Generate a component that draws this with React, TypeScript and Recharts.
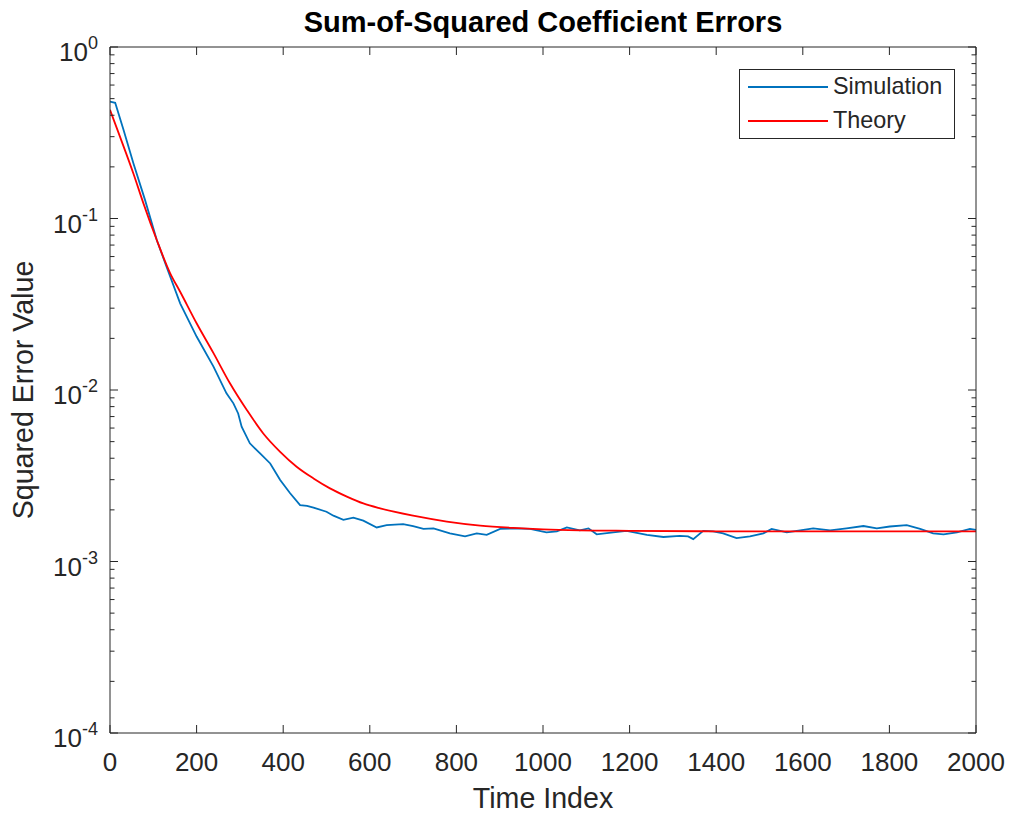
import { LineChart, Line, XAxis, YAxis, Legend } from 'recharts';

// values
const simIndex = [
  0, 12, 31, 54, 81, 108, 131, 162, 200, 239, 269, 285, 296, 304, 323, 346, 370, 393, 416, 439,
  455, 470, 500, 516, 539, 562, 585, 616, 639, 677, 700, 724, 747, 785, 820, 847, 870,
  901, 931, 970, 1008, 1032, 1055, 1085, 1105, 1124, 1162, 1193, 1240, 1278, 1316, 1335, 1347,
  1370, 1393, 1416, 1447, 1478, 1509, 1528, 1563, 1594, 1624, 1663, 1701, 1740, 1771, 1801, 1840,
  1871, 1901, 1925, 1956, 1986, 2000,
];
const simValue = [
  0.48, 0.473, 0.33, 0.21, 0.128, 0.0749, 0.052, 0.032, 0.0205, 0.0137, 0.00957, 0.00836, 0.0073,
  0.00611, 0.00489, 0.00428, 0.00373, 0.00299, 0.0025, 0.00213, 0.00211, 0.00206, 0.00195, 0.00185,
  0.00175, 0.0018, 0.00173, 0.00158, 0.00163, 0.00165, 0.00161, 0.00155, 0.00156,
  0.00146, 0.0014, 0.00146, 0.00143, 0.00155, 0.00156, 0.00155, 0.00148, 0.0015, 0.00158, 0.00152,
  0.00156, 0.00144, 0.00148, 0.00151, 0.00143, 0.00139, 0.00141, 0.0014, 0.00135, 0.00151, 0.0015,
  0.00146, 0.00137, 0.0014, 0.00146, 0.00155, 0.00148, 0.00152, 0.00156, 0.00152, 0.00156, 0.00161,
  0.00156, 0.0016, 0.00163, 0.00155, 0.00146, 0.00144, 0.00148, 0.00155, 0.00153,
];

const theoryIndex = [
  0, 23, 54, 77, 108, 139, 162, 200, 239, 277, 316, 354, 393, 431, 470, 508, 547, 585, 624, 700,
  778, 855, 931, 1000, 1085, 1200, 1400, 2000,
];
const theoryValue = [
  0.43, 0.3, 0.183, 0.123, 0.0749, 0.0479, 0.0374, 0.0245, 0.0164, 0.01094, 0.00764, 0.00558,
  0.00436, 0.00357, 0.00305, 0.00267, 0.00239, 0.00218, 0.00204, 0.00185, 0.00171, 0.00162,
  0.00157, 0.00154, 0.00152, 0.00151, 0.0015, 0.0015,
];

const xTicks = [0, 200, 400, 600, 800, 1000, 1200, 1400, 1600, 1800, 2000];
const yDecades = [1e-4, 1e-3, 1e-2, 1e-1, 1];

const simData = simIndex.map((x, i) => ({ x, v: simValue[i] }));
const theoryData = theoryIndex.map((x, i) => ({ x, v: theoryValue[i] }));

// major + minor log ticks (2..9 in each decade)
const yTicks: number[] = [];
yDecades.forEach((d, i) => {
  yTicks.push(d);
  if (i < yDecades.length - 1) for (let k = 2; k <= 9; k++) yTicks.push(+(d * k).toPrecision(3));
});

const AXIS = '#262626';
const FONT = '"Liberation Sans", Arial, Helvetica, sans-serif';

const isMajor = (v: number) => {
  const e = Math.log10(v);
  return Math.abs(e - Math.round(e)) < 1e-6;
};

function BottomTick({ x, y, payload }: any) {
  return (
    <g>
      <line x1={x} x2={x} y1={y} y2={y - 8} stroke={AXIS} />
      <text x={x} y={y + 38} textAnchor="middle" fontSize={26} fill={AXIS} fontFamily={FONT}>
        {payload.value}
      </text>
    </g>
  );
}

function TopTick({ x, y }: any) {
  return <line x1={x} x2={x} y1={y} y2={y + 8} stroke={AXIS} />;
}

function LeftTick({ x, y, payload }: any) {
  const v = payload.value;
  const major = isMajor(v);
  return (
    <g>
      <line x1={x} x2={x + (major ? 8 : 4.5)} y1={y} y2={y} stroke={AXIS} />
      {major && (
        <text x={x - 12} y={y + 14} textAnchor="end" fontSize={26} fill={AXIS} fontFamily={FONT}>
          10
          <tspan dy={-12} fontSize={18}>
            {Math.round(Math.log10(v))}
          </tspan>
        </text>
      )}
    </g>
  );
}

function RightTick({ x, y, payload }: any) {
  const major = isMajor(payload.value);
  return <line x1={x} x2={x - (major ? 8 : 4.5)} y1={y} y2={y} stroke={AXIS} />;
}

function LegendBox() {
  const row = (color: string, label: string) => (
    <div style={{ display: 'flex', alignItems: 'center', height: 34 }}>
      <div style={{ width: 80, height: 0, borderTop: `2px solid ${color}`, marginLeft: 8, marginRight: 5 }} />
      <span style={{ fontSize: 23.4, color: AXIS, fontFamily: FONT }}>{label}</span>
    </div>
  );
  return (
    <div
      style={{
        width: 214,
        height: 68,
        border: `1px solid ${AXIS}`,
        background: '#fff',
        boxSizing: 'content-box',
        lineHeight: 1,
      }}
    >
      {row('#0072BD', 'Simulation')}
      {row('#FF0000', 'Theory')}
    </div>
  );
}

export default function App() {
  return (
    <div style={{ position: 'absolute', left: 0, top: 0, background: '#fff' }}>
      <LineChart width={1009} height={815} margin={{ top: 46, right: 32, bottom: 22, left: 10 }}>
        <XAxis
          dataKey="x"
          type="number"
          domain={[0, 2000]}
          ticks={xTicks}
          interval={0}
          allowDataOverflow
          height={60}
          stroke={AXIS}
          tickLine={false}
          tickSize={0}
          tickMargin={0}
          tick={<BottomTick />}
        />
        <XAxis
          xAxisId="top"
          orientation="top"
          dataKey="x"
          type="number"
          domain={[0, 2000]}
          ticks={xTicks}
          interval={0}
          allowDataOverflow
          height={1}
          stroke={AXIS}
          tickLine={false}
          tickSize={0}
          tickMargin={0}
          tick={<TopTick />}
        />
        <YAxis
          type="number"
          scale="log"
          domain={[1e-4, 1]}
          ticks={yTicks}
          interval={0}
          allowDataOverflow
          width={100}
          stroke={AXIS}
          tickLine={false}
          tickSize={0}
          tickMargin={0}
          tick={<LeftTick />}
        />
        <YAxis
          yAxisId="right"
          orientation="right"
          type="number"
          scale="log"
          domain={[1e-4, 1]}
          ticks={yTicks}
          interval={0}
          allowDataOverflow
          width={1}
          stroke={AXIS}
          tickLine={false}
          tickSize={0}
          tickMargin={0}
          tick={<RightTick />}
        />
        <Line
          data={simData}
          dataKey="v"
          name="Simulation"
          type="linear"
          stroke="#0072BD"
          strokeWidth={1.8}
          dot={false}
          isAnimationActive={false}
        />
        <Line
          data={theoryData}
          dataKey="v"
          name="Theory"
          type="monotone"
          stroke="#FF0000"
          strokeWidth={1.8}
          dot={false}
          isAnimationActive={false}
        />
        <Legend
          layout="horizontal"
          verticalAlign="middle"
          align="center"
          content={<LegendBox />}
          wrapperStyle={{ left: 739, top: 69, width: 216 }}
        />
        <text x={543} y={32} textAnchor="middle" fontSize={29} fontWeight="bold" fill="#000" fontFamily={FONT}>
          Sum-of-Squared Coefficient Errors
        </text>
        <text x={543} y={808} textAnchor="middle" fontSize={28.6} fill={AXIS} fontFamily={FONT}>
          Time Index
        </text>
        <text
          x={33}
          y={390}
          transform="rotate(-90 33 390)"
          textAnchor="middle"
          fontSize={28.6}
          fill={AXIS}
          fontFamily={FONT}
        >
          Squared Error Value
        </text>
      </LineChart>
    </div>
  );
}
